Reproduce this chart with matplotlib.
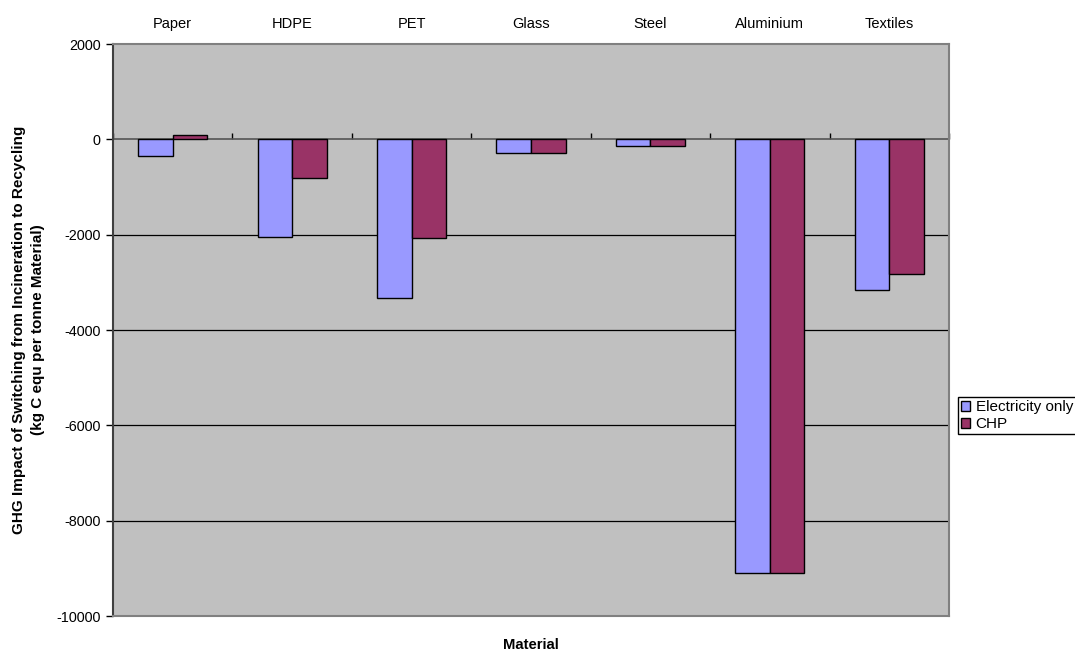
import matplotlib
matplotlib.use("Agg")
import matplotlib.pyplot as plt
import numpy as np

plt.rcParams['font.family'] = ['Liberation Sans', 'DejaVu Sans']

categories = ["Paper", "HDPE", "PET", "Glass", "Steel", "Aluminium", "Textiles"]
electricity_only = [-360, -2040, -3320, -280, -140, -9100, -3160]
chp = [90, -810, -2070, -280, -140, -9100, -2820]
series_names = ["Electricity only", "CHP"]
yticks = [2000, 0, -2000, -4000, -6000, -8000, -10000]

fig = plt.figure(figsize=(10.75, 6.51), dpi=100)
ax = fig.add_axes([113/1075, 1-616/651, 836/1075, 572/651])
ax.set_facecolor('#C0C0C0')

x = np.arange(len(categories))
w = 0.29
ax.bar(x - w/2, electricity_only, w, color='#9999FF', edgecolor='black', linewidth=1, label=series_names[0], zorder=3)
ax.bar(x + w/2, chp, w, color='#993366', edgecolor='black', linewidth=1, label=series_names[1], zorder=3)

ax.set_xlim(-0.5, len(categories) - 0.5)
ax.set_ylim(-10000, 2000)
ax.set_yticks(yticks)
ax.set_yticklabels([str(v) for v in yticks], fontsize=10.4)
ax.tick_params(axis='y', direction='out', length=5, width=1, color='black', pad=4)
for v in yticks:
    if v not in (2000, -10000, 0):
        ax.axhline(v, color='black', linewidth=0.9, zorder=1)
ax.axhline(0, color='#555555', linewidth=1.2, zorder=2)

# category labels on top
ax.xaxis.tick_top()
ax.set_xticks(x)
ax.set_xticklabels(categories, fontsize=10.5)
ax.tick_params(axis='x', length=0, pad=9.5)
ax.xaxis.set_label_position('bottom')
ax.set_xlabel("Material", fontsize=10.7, fontweight='bold', labelpad=15.5)

# ticks at category boundaries on the zero line
sec = ax.secondary_xaxis(10000/12000)
sec.set_xticks(np.arange(len(categories) + 1) - 0.5)
sec.set_xticklabels([])
sec.tick_params(axis='x', direction='out', length=4, color='black', width=1)
sec.spines['bottom'].set_visible(False)
sec.spines['top'].set_visible(False)

ax.set_ylabel("GHG Impact of Switching from Incineration to Recycling\n(kg C equ per tonne Material)",
              fontsize=11, fontweight='bold', labelpad=8, linespacing=1.45)

for s in ['top', 'right', 'bottom']:
    ax.spines[s].set_color('#808080')
    ax.spines[s].set_linewidth(1.5)
ax.spines['left'].set_color('#404040')
ax.spines['left'].set_linewidth(1.5)

leg = fig.legend(loc='upper left', bbox_to_anchor=(958/1075, 1-397/651), fontsize=11,
                 frameon=True, fancybox=False, edgecolor='black', framealpha=1,
                 handlelength=0.6, handleheight=0.6, handletextpad=0.35, borderpad=0.2,
                 labelspacing=0.2, borderaxespad=0)
leg.get_frame().set_linewidth(1)

fig.savefig("out.png", dpi=100)
